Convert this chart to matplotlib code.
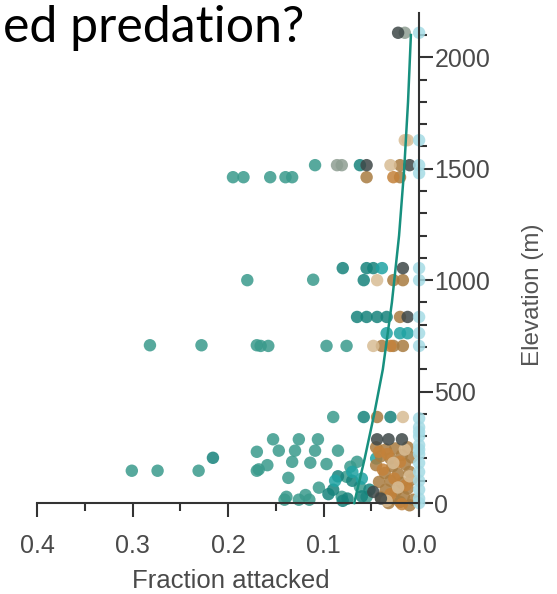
import matplotlib.pyplot as plt

plt.rcParams["font.family"] = ["Liberation Sans", "DejaVu Sans"]

# fraction of clay caterpillars attacked vs elevation, grouped by marker colour
teal_x = [0.282, 0.228, 0.170, 0.166, 0.158, 0.097, 0.076,
          0.180, 0.111,
          0.195, 0.184, 0.156, 0.140, 0.133, 0.109,
          0.090,
          0.301, 0.274, 0.231, 0.170, 0.170, 0.153, 0.126, 0.106,
          0.147, 0.130, 0.109, 0.085, 0.168, 0.159, 0.133, 0.114, 0.097,
          0.137, 0.139, 0.119, 0.105, 0.081, 0.076, 0.072, 0.065, 0.055,
          0.062, 0.141, 0.126, 0.115]
teal_y = [708, 708, 708, 705, 705, 705, 705,
          1000, 1002,
          1462, 1462, 1462, 1462, 1462, 1516,
          386,
          145, 145, 145, 145, 230, 286, 286, 286,
          235, 235, 235, 235, 151, 170, 185, 181, 175,
          113, 28, 36, 69, 28, 118, 163, 185, 28,
          73, 15, 15, 15]

darkteal_x = [0.216, 0.062, 0.080, 0.065, 0.055, 0.044, 0.034, 0.058,
              0.055, 0.048, 0.058, 0.030, 0.085, 0.070, 0.090, 0.060,
              0.080, 0.095, 0.075, 0.052]
darkteal_y = [203, 1516, 1054, 835, 835, 835, 835, 1000,
              1054, 1054, 386, 386, 120, 100, 60, 30,
              10, 40, 20, 60]

cyan_x = [0.034, 0.020, 0.012, 0.039, 0.088, 0.070, 0.060, 0.045]
cyan_y = [762, 762, 762, 1054, 100, 140, 110, 200]

dark_x = [0.022, 0.055, 0.010, 0.017, 0.012, 0.044, 0.032, 0.018, 0.048, 0.040]
dark_y = [2110, 1516, 1516, 1054, 835, 286, 286, 286, 50, 20]

grey_x = [0.015, 0.086, 0.081]
grey_y = [2110, 1516, 1516]

brown_x = [0.055, 0.020, 0.020, 0.017, 0.027, 0.017, 0.027, 0.039, 0.020, 0.044,
           0.045, 0.035, 0.025, 0.012, 0.040, 0.030, 0.018, 0.008, 0.045, 0.028,
           0.015, 0.036, 0.022, 0.010, 0.042, 0.030, 0.018, 0.008, 0.035, 0.024,
           0.012, 0.040, 0.028, 0.016, 0.006, 0.032, 0.020, 0.010]
brown_y = [1462, 1462, 1516, 1000, 1000, 705, 705, 705, 835, 386,
           250, 240, 245, 250, 210, 200, 215, 205, 170, 165,
           175, 135, 130, 140, 95, 100, 90, 105, 60, 55,
           65, 25, 20, 30, 15, 0, 5, -10]

orange_x = [0.027, 0.030, 0.033, 0.020, 0.038, 0.026, 0.014, 0.030, 0.018, 0.042]
orange_y = [1462, 705, 220, 185, 150, 110, 80, 40, -5, 230]

tan_x = [0.030, 0.012, 0.015, 0.048, 0.044, 0.017, 0.015, 0.027, 0.010, 0.022, 0.034]
tan_y = [1516, 1628, 1628, 705, 1000, 386, 240, 180, 120, 70, 10]

lightblue_x = [0.0] * 22
lightblue_y = [2110, 1628, 1516, 1480, 1054, 1000, 835, 762, 705,
               380, 340, 300, 260, 220, 180, 140, 100, 60, 20, 0, 320, 240]

# fitted trend
fit_elev = [0, 200, 400, 600, 900, 1200, 1500, 1800, 2100]
fit_frac = [0.068, 0.057, 0.047, 0.038, 0.0285, 0.021, 0.0156, 0.0116, 0.0086]

groups = [
    (teal_x, teal_y, "#3a9a8c"),
    (darkteal_x, darkteal_y, "#17837c"),
    (cyan_x, cyan_y, "#1fa3a3"),
    (grey_x, grey_y, "#8e9e92"),
    (brown_x, brown_y, "#a87c40"),
    (orange_x, orange_y, "#c4823a"),
    (tan_x, tan_y, "#d8bc94"),
    (dark_x, dark_y, "#3e4848"),
    (lightblue_x, lightblue_y, "#a5dbe5"),
]

fig = plt.figure(figsize=(5.57, 5.94), dpi=100)
ax = fig.add_axes([0.067, 0.1306, 0.694, 0.848])

for xs, ys, c in groups:
    ax.scatter(xs, ys, s=80, color=c, alpha=0.85, edgecolors="none",
               clip_on=False, zorder=2)

ax.plot(fit_frac, fit_elev, color="#17907f", lw=1.8, zorder=3)

ax.set_xlim(0.4, -0.005)
ax.set_ylim(-60, 2200)

for s in ["top", "left"]:
    ax.spines[s].set_visible(False)
ax.spines["bottom"].set_position(("data", 0))
ax.spines["bottom"].set_bounds(0.0, 0.4)
ax.spines["right"].set_position(("data", 0))
ax.spines["right"].set_bounds(-60, 2200)
for s in ["bottom", "right"]:
    ax.spines[s].set_color("#333333")
    ax.spines[s].set_linewidth(1.5)

ax.yaxis.tick_right()
ax.yaxis.set_label_position("right")
ax.set_xticks([0.4, 0.3, 0.2, 0.1, 0.0])
ax.set_xticklabels(["0.4", "0.3", "0.2", "0.1", "0.0"])
ax.set_xticks([0.35, 0.25, 0.15, 0.05], minor=True)
ax.set_yticks([0, 500, 1000, 1500, 2000])
ax.set_yticks([y for y in range(100, 2200, 100) if y % 500], minor=True)

ax.tick_params(which="major", length=10, width=1.5, color="#333333",
               labelsize=18, labelcolor="#4a4a4a")
ax.tick_params(which="minor", length=5.5, width=1.5, color="#333333")
ax.tick_params(axis="x", which="major", pad=12)
ax.tick_params(axis="y", which="major", pad=1)

ax.set_xlabel("Fraction attacked", fontsize=18.5, color="#4a4a4a", labelpad=8)
ax.set_ylabel("Elevation (m)", fontsize=17.5, color="#555555", rotation=90)
ax.yaxis.set_label_coords(1.255, 0.44)

fig.text(0.005, 1 - 42 / 594, "ed predation?", fontsize=36, family="Lato",
         color="black", va="baseline", ha="left")

fig.savefig("out.png", dpi=100)
